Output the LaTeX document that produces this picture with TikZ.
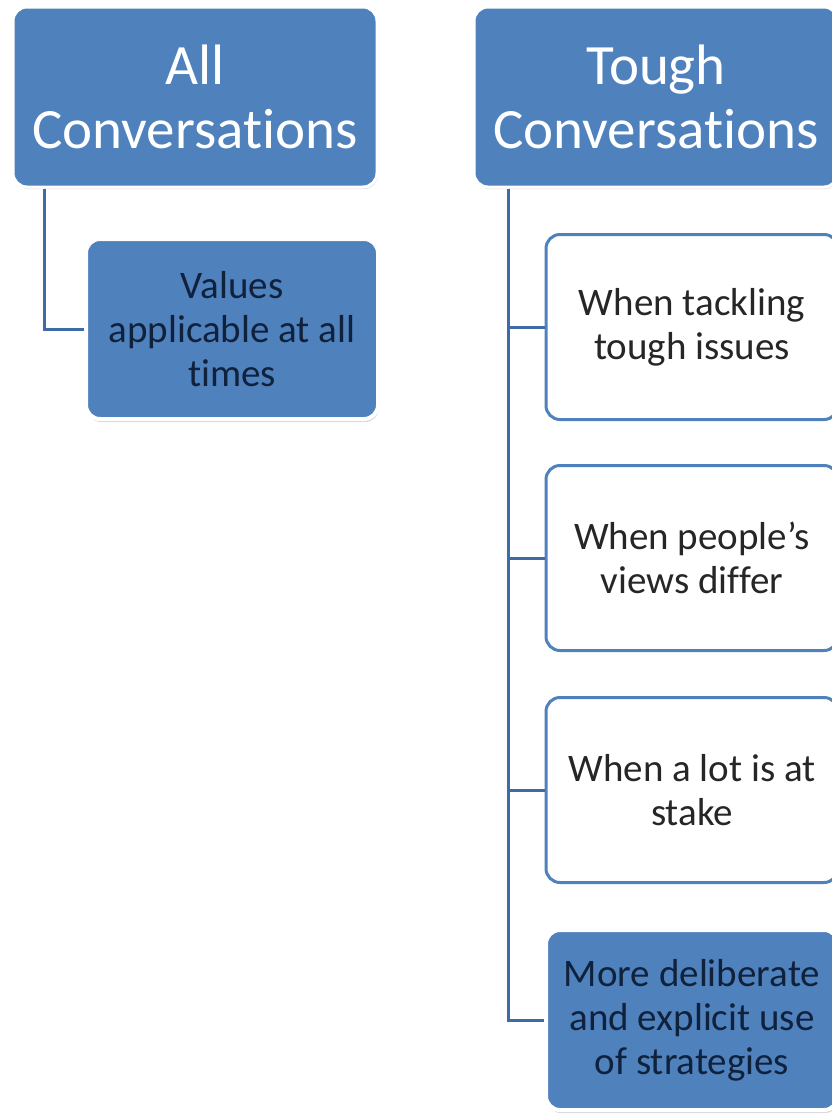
\documentclass[tikz,border=0pt]{standalone}
\usepackage{fontspec}
\setmainfont{Carlito}[Ligatures=NoCommon]
\usepackage{tikz}
\usetikzlibrary{positioning, shadows}
\definecolor{boxblue}{RGB}{79, 129, 189}
\definecolor{lineblue}{RGB}{62, 106, 165}
\definecolor{darknavy}{RGB}{16, 33, 60}
\definecolor{textgray}{RGB}{38, 38, 38}

\tikzset{
    headbox/.style={rectangle, rounded corners=14pt, fill=boxblue, draw=white, line width=3pt,
        minimum width=364pt, minimum height=180pt, align=center, text=white,
        font=\fontsize{57}{64}\selectfont,
        drop shadow={opacity=0.25, shadow xshift=1pt, shadow yshift=-2pt}},
    fullbox/.style={rectangle, rounded corners=14pt, fill=boxblue, draw=white, line width=4pt,
        minimum width=292pt, minimum height=180pt, align=center, text=darknavy,
        font=\fontsize{39}{44}\selectfont,
        drop shadow={opacity=0.3, shadow xshift=1pt, shadow yshift=-3pt}},
    emptybox/.style={rectangle, rounded corners=14pt, fill=white, draw=boxblue, line width=3pt,
        minimum width=292pt, minimum height=185pt, align=center, text=textgray,
        font=\fontsize{39}{44}\selectfont},
    link/.style={draw=lineblue, line width=3pt}
}

\begin{document}
\begin{tikzpicture}[x=1pt, y=-1pt]
    \clip (0,0) rectangle (832,1114);
    \useasboundingbox (0,0) rectangle (832,1114);
    \fill[white] (0,0) rectangle (832,1114);

    % Top boxes
    \node[headbox] (allconv) at (195,97) {All\\Conversations};
    \node[headbox] (toughconv) at (656,97) {Tough\\Conversations};

    % Left child
    \node[fullbox] (values) at (232,329) {Values\\applicable at all\\times};

    % Right children
    \node[emptybox] (tackling) at (692,327) {When tackling\\tough issues};
    \node[emptybox] (differ) at (692,558) {When people’s\\views differ};
    \node[emptybox] (stake) at (692,790) {When a lot is at\\stake};
    \node[fullbox] (strategies) at (692,1020) {More deliberate\\and explicit use\\of strategies};

    % Connectors
    \draw[link] ([xshift=33pt]allconv.south west) |- (values.west);
    \foreach \child in {tackling, differ, stake, strategies} {
        \draw[link] ([xshift=36pt]toughconv.south west) |- (\child.west);
    }
\end{tikzpicture}
\end{document}
